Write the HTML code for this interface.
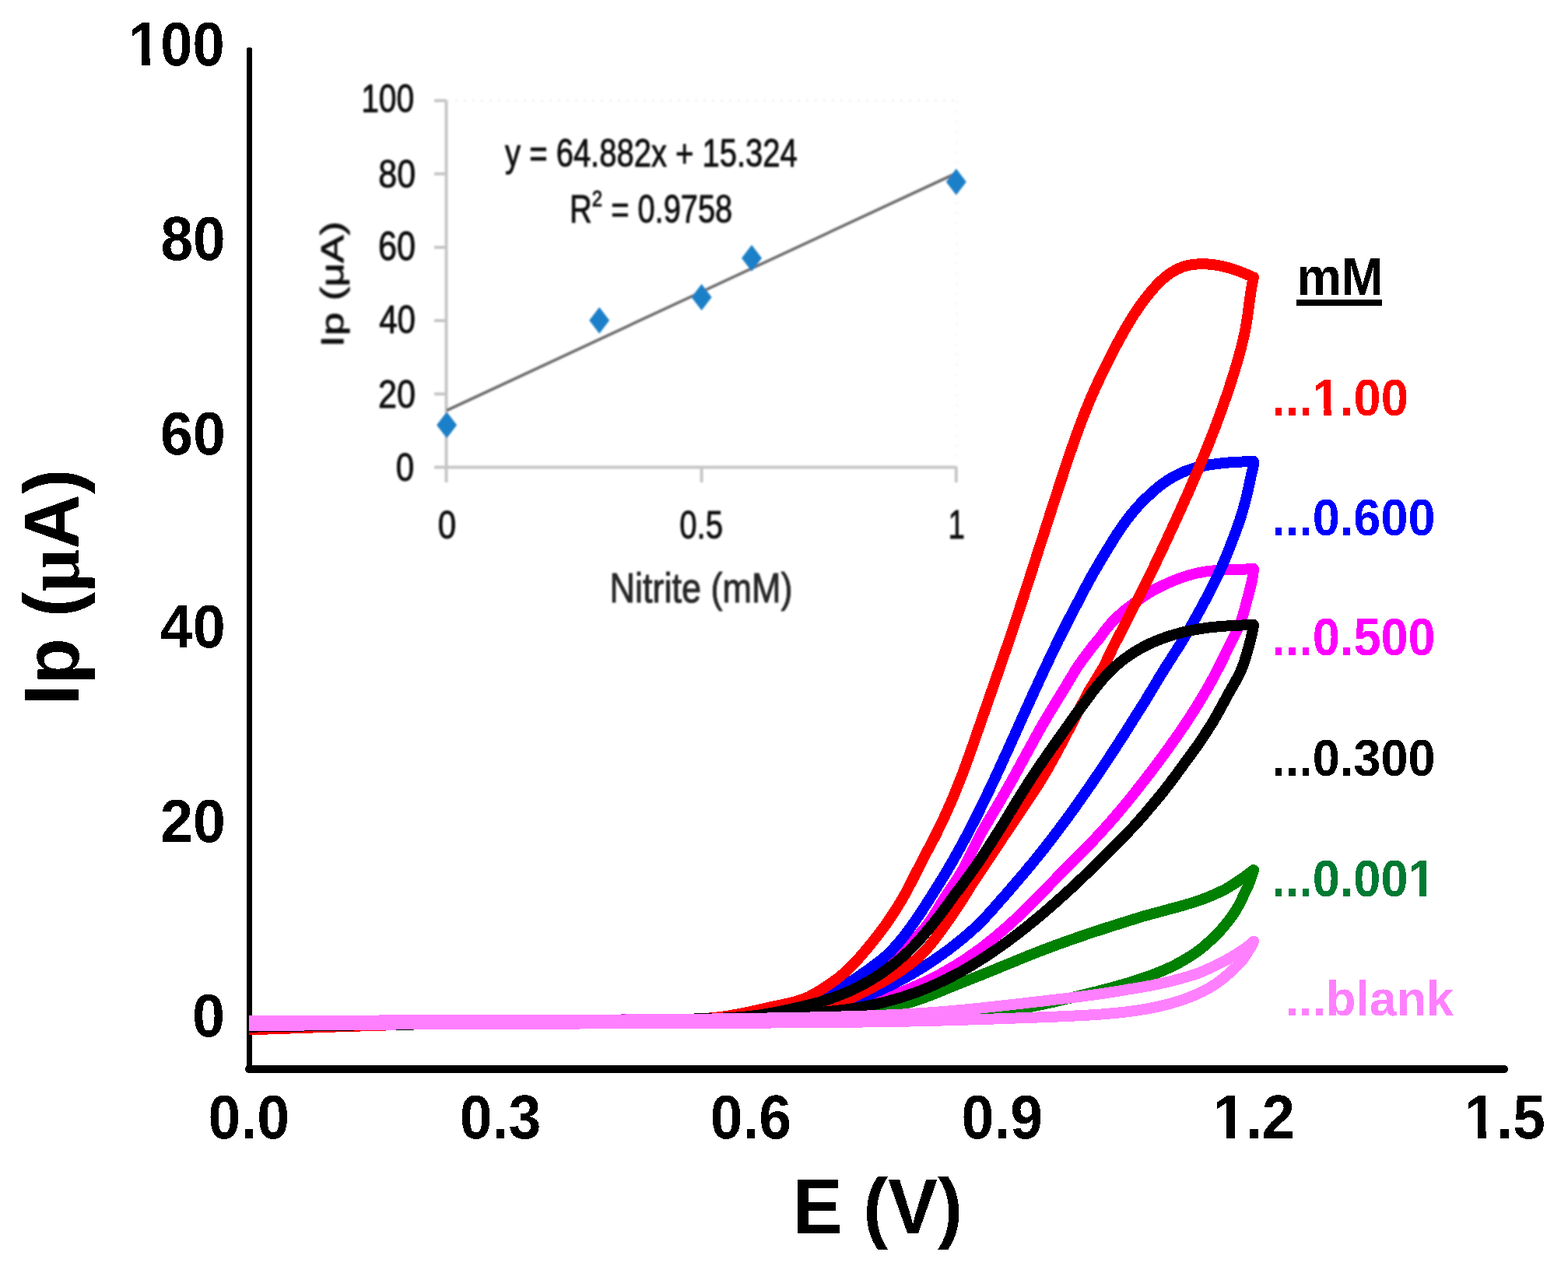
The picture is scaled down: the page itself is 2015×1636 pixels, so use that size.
<!DOCTYPE html>
<html lang="en">
<head>
<meta charset="utf-8">
<title>Cyclic voltammograms of nitrite</title>
<style>
html,body{margin:0;padding:0;background:#fff;}
body{width:2015px;height:1636px;overflow:hidden;}
svg{display:block;}
text{font-family:"Liberation Sans",Arial,Helvetica,sans-serif;}
.b{font-weight:bold;}
</style>
</head>
<body>
<svg xmlns="http://www.w3.org/2000/svg" width="2015" height="1636" viewBox="0 0 2015 1636">
<rect width="2015" height="1636" fill="#ffffff"/>
<defs><filter id="bl" x="-5%" y="-20%" width="110%" height="140%"><feGaussianBlur stdDeviation="0.9"/></filter></defs>
<g id="inset" filter="url(#bl)">
<g stroke="#c6c6c6" stroke-width="4" fill="none">
<line x1="573.5" y1="129" x2="573.5" y2="620"/>
<line x1="558" y1="600.6" x2="1230" y2="600.6"/>
<line x1="558" y1="129.3" x2="574" y2="129.3"/>
<line x1="558" y1="223.4" x2="574" y2="223.4"/>
<line x1="558" y1="317.9" x2="574" y2="317.9"/>
<line x1="558" y1="412" x2="574" y2="412"/>
<line x1="558" y1="506.3" x2="574" y2="506.3"/>
<line x1="901.6" y1="600" x2="901.6" y2="620"/>
<line x1="1228.8" y1="600" x2="1228.8" y2="620"/>
</g>
<line x1="574" y1="129.3" x2="1230" y2="129.3" stroke="#ececec" stroke-width="2" stroke-dasharray="3 8"/>
<line x1="1229.5" y1="129.3" x2="1229.5" y2="600" stroke="#f2f2f2" stroke-width="2" stroke-dasharray="3 10"/>
<line x1="574" y1="527.5" x2="1229" y2="222.5" stroke="#6e6e6e" stroke-width="3.6"/>
<path d="M574.1 529.3 L587.1 546.3 L574.1 563.3 L561.1 546.3 Z" fill="#1f80c8"/>
<path d="M770.2 394.7 L783.2 411.7 L770.2 428.7 L757.2 411.7 Z" fill="#1f80c8"/>
<path d="M901.6 364.9 L914.6 381.9 L901.6 398.9 L888.6 381.9 Z" fill="#1f80c8"/>
<path d="M966 314.7 L979 331.7 L966 348.7 L953 331.7 Z" fill="#1f80c8"/>
<path d="M1228.8 216.8 L1241.8 233.8 L1228.8 250.8 L1215.8 233.8 Z" fill="#1f80c8"/>
<text transform="matrix(0.4084 0 0 0.4958 464.14 143.50)" font-size="100" font-weight="normal" fill="#111" stroke="#111" stroke-width="2" stroke-linejoin="round">100</text>
<text transform="matrix(0.4301 0 0 0.5028 486.26 240.70)" font-size="100" font-weight="normal" fill="#111" stroke="#111" stroke-width="2" stroke-linejoin="round">80</text>
<text transform="matrix(0.4322 0 0 0.5113 486.04 334.49)" font-size="100" font-weight="normal" fill="#111" stroke="#111" stroke-width="2" stroke-linejoin="round">60</text>
<text transform="matrix(0.4219 0 0 0.5000 487.15 427.50)" font-size="100" font-weight="normal" fill="#111" stroke="#111" stroke-width="2" stroke-linejoin="round">40</text>
<text transform="matrix(0.4322 0 0 0.4958 486.04 523.80)" font-size="100" font-weight="normal" fill="#111" stroke="#111" stroke-width="2" stroke-linejoin="round">20</text>
<text transform="matrix(0.4211 0 0 0.5028 508.82 617.70)" font-size="100" font-weight="normal" fill="#111" stroke="#111" stroke-width="2" stroke-linejoin="round">0</text>
<text transform="matrix(0.4211 0 0 0.5042 562.82 691.80)" font-size="100" font-weight="normal" fill="#111" stroke="#111" stroke-width="2" stroke-linejoin="round">0</text>
<text transform="matrix(0.4015 0 0 0.5042 873.29 691.80)" font-size="100" font-weight="normal" fill="#111" stroke="#111" stroke-width="2" stroke-linejoin="round">0.5</text>
<text transform="matrix(0.3860 0 0 0.5188 1218.50 692.30)" font-size="100" font-weight="normal" fill="#111" stroke="#111" stroke-width="2" stroke-linejoin="round">1</text>
<text transform="matrix(0.4498 0 0 0.5337 783.60 774.29)" font-size="100" font-weight="normal" fill="#262626" stroke="#262626" stroke-width="2" stroke-linejoin="round">Nitrite (mM)</text>
<text transform="matrix(0.3999 0 0 0.5066 649.10 214.36)" font-size="100" font-weight="normal" fill="#111" stroke="#111" stroke-width="2" stroke-linejoin="round">y = 64.882x + 15.324</text>
<text transform="matrix(0.3982 0 0 0.4924 732.01 285.61)" font-size="100" font-weight="normal" fill="#111" stroke="#111" stroke-width="2" stroke-linejoin="round">R<tspan font-size="60" dy="-42">2</tspan><tspan dy="42"> = 0.9758</tspan></text>
<text transform="matrix(0 -0.5359 0.4043 0 440.81 446.12)" font-size="100" font-weight="normal" fill="#111" stroke="#111" stroke-width="2" stroke-linejoin="round">Ip (μA)</text>
</g>
<g stroke="#000" fill="none" stroke-linecap="round" shape-rendering="crispEdges">
<line x1="320.5" y1="64" x2="320.5" y2="1374" stroke-width="7"/>
<line x1="320" y1="1374" x2="1933" y2="1374" stroke-width="10"/>
</g>
<g fill="none" stroke-width="14" stroke-linejoin="round" stroke-linecap="butt" shape-rendering="crispEdges">
<path d="M320.0 1312.0 L325.1 1312.0 L330.2 1312.0 L335.3 1312.0 L340.5 1312.0 L345.6 1311.9 L350.7 1311.9 L355.8 1311.9 L360.9 1311.9 L366.1 1311.9 L371.2 1311.9 L376.3 1311.8 L381.4 1311.8 L386.5 1311.8 L391.6 1311.8 L396.8 1311.8 L401.9 1311.8 L407.0 1311.8 L412.1 1311.8 L417.2 1311.7 L422.3 1311.7 L427.5 1311.7 L432.6 1311.7 L437.7 1311.7 L442.8 1311.7 L447.9 1311.7 L453.0 1311.7 L458.2 1311.7 L463.3 1311.7 L468.4 1311.7 L473.5 1311.6 L478.6 1311.6 L483.7 1311.6 L488.9 1311.6 L494.0 1311.6 L499.1 1311.6 L504.2 1311.6 L509.3 1311.6 L514.4 1311.6 L519.6 1311.6 L524.7 1311.6 L529.8 1311.6 L534.9 1311.6 L540.0 1311.6 L545.1 1311.5 L550.3 1311.5 L555.4 1311.5 L560.5 1311.5 L565.6 1311.5 L570.7 1311.5 L575.8 1311.5 L581.0 1311.5 L586.1 1311.5 L591.2 1311.5 L596.3 1311.5 L601.4 1311.4 L606.5 1311.4 L611.7 1311.4 L616.8 1311.4 L621.9 1311.4 L627.0 1311.4 L632.1 1311.4 L637.2 1311.4 L642.4 1311.4 L647.5 1311.3 L652.6 1311.3 L657.7 1311.3 L662.8 1311.3 L667.9 1311.3 L673.1 1311.3 L678.2 1311.2 L683.3 1311.2 L688.4 1311.2 L693.5 1311.2 L698.6 1311.2 L703.8 1311.1 L708.9 1311.1 L714.0 1311.1 L719.1 1311.1 L724.2 1311.0 L729.3 1311.0 L734.5 1311.0 L739.6 1311.0 L744.7 1310.9 L749.8 1310.9 L754.9 1310.9 L760.0 1310.8 L765.2 1310.8 L770.3 1310.8 L775.4 1310.7 L780.5 1310.7 L785.6 1310.6 L790.7 1310.6 L795.9 1310.6 L801.0 1310.5 L806.1 1310.5 L811.2 1310.4 L816.3 1310.4 L821.4 1310.3 L826.6 1310.3 L831.7 1310.2 L836.8 1310.2 L841.9 1310.1 L847.0 1310.1 L852.1 1310.0 L857.3 1310.0 L862.4 1309.9 L867.5 1309.9 L872.6 1309.8 L877.7 1309.7 L882.8 1309.7 L888.0 1309.6 L893.1 1309.5 L898.2 1309.5 L903.3 1309.4 L908.4 1309.3 L913.5 1309.2 L918.7 1309.2 L923.8 1309.1 L928.9 1309.0 L934.0 1308.9 L939.1 1308.8 L944.2 1308.8 L949.4 1308.7 L954.5 1308.6 L959.6 1308.5 L964.7 1308.4 L969.8 1308.3 L975.0 1308.2 L980.1 1308.1 L985.2 1308.0 L990.3 1307.9 L995.4 1307.8 L1000.5 1307.7 L1005.7 1307.6 L1010.8 1307.5 L1015.9 1307.4 L1021.0 1307.2 L1026.1 1307.1 L1031.2 1306.9 L1036.4 1306.8 L1041.5 1306.6 L1046.6 1306.4 L1051.7 1306.1 L1056.8 1305.9 L1061.9 1305.6 L1067.0 1305.3 L1072.1 1304.9 L1077.2 1304.5 L1082.3 1304.1 L1087.4 1303.6 L1092.4 1303.1 L1097.5 1302.6 L1102.6 1301.9 L1107.7 1301.3 L1112.7 1300.6 L1117.8 1299.8 L1122.8 1299.0 L1127.9 1298.1 L1132.9 1297.1 L1137.9 1296.1 L1142.9 1295.0 L1147.9 1293.9 L1152.9 1292.7 L1157.9 1291.4 L1162.8 1290.1 L1167.7 1288.7 L1172.6 1287.2 L1177.5 1285.6 L1182.3 1284.0 L1187.2 1282.3 L1192.0 1280.5 L1196.7 1278.7 L1201.5 1276.8 L1206.3 1274.9 L1211.0 1273.0 L1215.7 1271.0 L1220.5 1269.1 L1225.2 1267.2 L1230.0 1265.2 L1234.7 1263.4 L1239.5 1261.5 L1244.2 1259.6 L1249.0 1257.7 L1253.7 1255.8 L1258.5 1254.0 L1263.2 1252.1 L1268.0 1250.1 L1272.7 1248.2 L1277.5 1246.3 L1282.2 1244.3 L1286.9 1242.4 L1291.7 1240.5 L1296.4 1238.5 L1301.2 1236.6 L1305.9 1234.6 L1310.6 1232.7 L1315.4 1230.8 L1320.1 1228.8 L1324.9 1226.9 L1329.6 1225.1 L1334.4 1223.2 L1339.2 1221.3 L1344.0 1219.5 L1348.7 1217.7 L1353.5 1215.9 L1358.3 1214.2 L1363.1 1212.4 L1368.0 1210.7 L1372.8 1209.0 L1377.6 1207.3 L1382.4 1205.6 L1387.3 1203.9 L1392.1 1202.3 L1397.0 1200.6 L1401.8 1199.0 L1406.7 1197.4 L1411.5 1195.8 L1416.4 1194.2 L1421.2 1192.6 L1426.1 1191.1 L1431.0 1189.5 L1435.9 1188.0 L1440.7 1186.4 L1445.6 1184.9 L1450.5 1183.4 L1455.4 1181.9 L1460.3 1180.3 L1465.2 1178.8 L1470.1 1177.3 L1475.0 1176.0 L1479.8 1174.7 L1484.7 1173.3 L1489.6 1172.0 L1494.5 1170.7 L1499.4 1169.3 L1504.3 1168.0 L1509.2 1166.7 L1514.0 1165.4 L1518.9 1164.0 L1523.7 1162.6 L1528.6 1161.2 L1533.4 1159.7 L1538.1 1158.1 L1542.9 1156.5 L1547.6 1154.8 L1552.3 1153.0 L1557.0 1151.0 L1561.7 1149.0 L1566.3 1146.9 L1570.8 1144.7 L1575.4 1142.4 L1579.9 1139.7 L1584.4 1136.9 L1588.9 1134.0 L1593.3 1131.0 L1597.8 1127.8 L1602.2 1124.6 L1606.6 1121.3 L1611.0 1118.0 L1609.5 1123.2 L1607.8 1128.5 L1605.8 1133.7 L1603.7 1138.8 L1601.5 1143.8 L1599.0 1148.7 L1596.8 1153.6 L1594.6 1158.4 L1592.2 1163.0 L1589.5 1167.6 L1586.8 1172.1 L1583.9 1176.5 L1580.8 1180.7 L1577.6 1184.9 L1574.2 1189.0 L1570.9 1192.9 L1567.5 1196.8 L1564.0 1200.5 L1560.4 1204.1 L1556.6 1207.7 L1552.8 1211.1 L1549.1 1214.4 L1545.4 1217.6 L1541.5 1220.7 L1537.5 1223.6 L1533.4 1226.5 L1529.1 1229.3 L1524.8 1231.9 L1520.4 1234.5 L1516.0 1237.0 L1511.4 1239.4 L1506.9 1241.7 L1502.3 1243.9 L1497.6 1246.0 L1492.7 1248.1 L1487.8 1250.1 L1482.9 1252.0 L1478.0 1253.8 L1473.0 1255.6 L1468.0 1257.3 L1463.0 1259.0 L1458.0 1260.6 L1453.0 1262.2 L1447.9 1263.7 L1442.9 1265.2 L1437.8 1266.7 L1432.7 1268.1 L1427.7 1269.5 L1422.6 1270.8 L1417.5 1272.1 L1412.4 1273.5 L1407.3 1274.8 L1402.2 1276.0 L1397.0 1277.3 L1391.9 1278.6 L1386.8 1279.8 L1381.7 1281.1 L1376.6 1282.3 L1371.5 1283.5 L1366.3 1284.8 L1361.2 1286.0 L1356.1 1287.2 L1350.9 1288.4 L1345.8 1289.5 L1340.7 1290.6 L1335.5 1291.7 L1330.3 1292.8 L1325.2 1293.8 L1320.0 1294.8 L1314.8 1295.8 L1309.7 1296.7 L1304.5 1297.5 L1299.3 1298.3 L1294.1 1299.1 L1288.8 1299.8 L1283.6 1300.5 L1278.4 1301.1 L1273.2 1301.7 L1267.9 1302.3 L1262.7 1302.8 L1257.5 1303.3 L1252.2 1303.8 L1247.0 1304.3 L1241.7 1304.7 L1236.5 1305.2 L1231.2 1305.6 L1225.9 1306.0 L1220.7 1306.3 L1215.4 1306.6 L1210.2 1307.0 L1204.9 1307.2 L1199.6 1307.5 L1194.4 1307.7 L1189.1 1308.0 L1183.9 1308.2 L1178.6 1308.3 L1173.3 1308.5 L1168.1 1308.6 L1162.8 1308.8 L1157.5 1308.9 L1152.3 1309.0 L1147.0 1309.1 L1141.7 1309.2 L1136.5 1309.3 L1131.2 1309.4 L1125.9 1309.4 L1120.7 1309.5 L1115.4 1309.6 L1110.1 1309.7 L1104.9 1309.8 L1099.6 1309.9 L1094.3 1310.0 L1089.1 1310.1 L1083.8 1310.2 L1078.5 1310.3 L1073.3 1310.4 L1068.0 1310.5 L1062.7 1310.6 L1057.5 1310.7 L1052.2 1310.8 L1046.9 1310.9 L1041.7 1311.0 L1036.4 1311.0 L1031.1 1311.1 L1025.9 1311.2 L1020.6 1311.3 L1015.3 1311.4 L1010.1 1311.5 L1004.8 1311.6 L999.5 1311.7 L994.3 1311.7 L989.0 1311.8 L983.7 1311.9 L978.5 1312.0 L973.2 1312.0 L967.9 1312.1 L962.7 1312.2 L957.4 1312.3 L952.1 1312.3 L946.9 1312.4 L941.6 1312.5 L936.3 1312.5 L931.1 1312.6 L925.8 1312.7 L920.5 1312.7 L915.3 1312.8 L910.0 1312.9 L904.7 1312.9 L899.5 1313.0 L894.2 1313.0 L888.9 1313.1 L883.6 1313.1 L878.4 1313.2 L873.1 1313.3 L867.8 1313.3 L862.6 1313.4 L857.3 1313.4 L852.0 1313.5 L846.8 1313.5 L841.5 1313.6 L836.2 1313.6 L831.0 1313.7 L825.7 1313.7 L820.4 1313.8 L815.2 1313.8 L809.9 1313.8 L804.6 1313.9 L799.4 1313.9 L794.1 1314.0 L788.8 1314.0 L783.6 1314.1 L778.3 1314.1 L773.0 1314.1 L767.8 1314.2 L762.5 1314.2 L757.2 1314.3 L752.0 1314.3 L746.7 1314.3 L741.4 1314.4 L736.2 1314.4 L730.9 1314.5 L725.6 1314.5 L720.4 1314.5 L715.1 1314.6 L709.8 1314.6 L704.5 1314.6 L699.3 1314.7 L694.0 1314.7 L688.7 1314.7 L683.5 1314.8 L678.2 1314.8 L672.9 1314.8 L667.7 1314.9 L662.4 1314.9 L657.1 1314.9 L651.9 1315.0 L646.6 1315.0 L641.3 1315.0 L636.1 1315.1 L630.8 1315.1 L625.5 1315.1 L620.3 1315.2 L615.0 1315.2 L609.7 1315.2 L604.5 1315.3 L599.2 1315.3 L593.9 1315.3 L588.7 1315.4 L583.4 1315.4 L578.1 1315.4 L572.9 1315.5 L567.6 1315.5 L562.3 1315.5 L557.0 1315.6 L551.8 1315.6 L546.5 1315.6 L541.2 1315.7 L536.0 1315.7 L530.7 1315.7 L525.4 1315.8 L520.2 1315.8 L514.9 1315.9 L509.6 1315.9 L504.4 1315.9 L499.1 1316.0 L493.8 1316.0 L488.6 1316.0 L483.3 1316.1 L478.0 1316.1 L472.8 1316.2 L467.5 1316.2 L462.2 1316.2 L457.0 1316.3 L451.7 1316.3 L446.4 1316.4 L441.2 1316.4 L435.9 1316.5 L430.6 1316.5 L425.4 1316.6 L420.1 1316.6 L414.8 1316.7 L409.6 1316.7 L404.3 1316.8 L399.0 1316.8 L393.7 1316.9 L388.5 1316.9 L383.2 1317.0 L377.9 1317.0 L372.7 1317.1 L367.4 1317.1 L362.1 1317.2 L356.9 1317.2 L351.6 1317.3 L346.3 1317.3 L341.1 1317.4 L335.8 1317.5 L330.5 1317.5 L325.3 1317.6 L320.0 1317.5" stroke="#008000"/>
<path d="M320.0 1312.3 L326.0 1312.3 L332.1 1312.3 L338.1 1312.3 L344.2 1312.2 L350.2 1312.2 L356.3 1312.2 L362.3 1312.2 L368.4 1312.1 L374.4 1312.1 L380.5 1312.1 L386.5 1312.1 L392.5 1312.1 L398.6 1312.0 L404.6 1312.0 L410.7 1312.0 L416.7 1312.0 L422.8 1312.0 L428.8 1312.0 L434.9 1311.9 L440.9 1311.9 L447.0 1311.9 L453.0 1311.9 L459.0 1311.9 L465.1 1311.9 L471.1 1311.9 L477.2 1311.9 L483.2 1311.9 L489.3 1311.8 L495.3 1311.8 L501.4 1311.8 L507.4 1311.8 L513.5 1311.8 L519.5 1311.8 L525.6 1311.8 L531.6 1311.8 L537.6 1311.8 L543.7 1311.8 L549.7 1311.7 L555.8 1311.7 L561.8 1311.7 L567.9 1311.7 L573.9 1311.7 L580.0 1311.7 L586.0 1311.7 L592.1 1311.7 L598.1 1311.6 L604.1 1311.6 L610.2 1311.6 L616.2 1311.6 L622.3 1311.6 L628.3 1311.6 L634.4 1311.5 L640.4 1311.5 L646.5 1311.5 L652.5 1311.5 L658.6 1311.4 L664.6 1311.4 L670.6 1311.4 L676.7 1311.4 L682.7 1311.3 L688.8 1311.3 L694.8 1311.3 L700.9 1311.2 L706.9 1311.2 L713.0 1311.2 L719.0 1311.1 L725.1 1311.1 L731.1 1311.0 L737.1 1311.0 L743.2 1311.0 L749.2 1310.9 L755.3 1310.9 L761.3 1310.8 L767.4 1310.8 L773.4 1310.7 L779.5 1310.6 L785.5 1310.6 L791.5 1310.5 L797.6 1310.5 L803.6 1310.4 L809.7 1310.4 L815.7 1310.3 L821.8 1310.3 L827.8 1310.3 L833.9 1310.2 L839.9 1310.2 L846.0 1310.2 L852.0 1310.2 L858.1 1310.3 L864.1 1310.3 L870.2 1310.3 L876.2 1310.3 L882.3 1310.3 L888.3 1310.3 L894.4 1310.2 L900.4 1310.0 L906.4 1309.9 L912.5 1309.6 L918.5 1309.3 L924.5 1309.0 L930.5 1308.6 L936.6 1308.2 L942.6 1307.7 L948.6 1307.1 L954.6 1306.5 L960.6 1305.8 L966.6 1305.0 L972.6 1304.2 L978.6 1303.4 L984.6 1302.6 L990.6 1301.8 L996.6 1301.1 L1002.7 1300.5 L1008.7 1300.0 L1014.8 1299.5 L1020.8 1299.0 L1026.8 1298.3 L1032.7 1297.3 L1038.6 1296.0 L1044.3 1294.2 L1049.8 1292.1 L1055.4 1289.6 L1060.8 1287.0 L1066.3 1284.3 L1071.8 1281.7 L1077.3 1279.1 L1082.9 1276.5 L1088.3 1273.9 L1093.7 1271.2 L1098.9 1268.2 L1104.0 1265.0 L1108.9 1261.5 L1113.6 1257.9 L1118.3 1254.1 L1123.0 1250.2 L1127.6 1246.3 L1132.2 1242.4 L1136.9 1238.5 L1141.7 1234.7 L1146.4 1231.0 L1151.1 1227.2 L1155.8 1223.4 L1160.5 1219.5 L1165.2 1215.6 L1169.8 1211.6 L1174.2 1207.6 L1178.6 1203.4 L1182.8 1199.1 L1186.8 1194.6 L1190.6 1189.9 L1194.2 1185.1 L1197.6 1180.1 L1200.9 1175.0 L1204.1 1169.9 L1207.3 1164.7 L1210.4 1159.5 L1213.7 1154.4 L1216.9 1149.3 L1220.3 1144.2 L1223.7 1139.2 L1227.0 1134.2 L1230.3 1129.1 L1233.5 1124.0 L1236.6 1118.8 L1239.6 1113.6 L1242.4 1108.2 L1245.0 1102.8 L1247.7 1097.4 L1250.3 1091.9 L1252.9 1086.4 L1255.6 1081.0 L1258.4 1075.6 L1261.2 1070.3 L1264.2 1065.0 L1267.2 1059.8 L1270.3 1054.6 L1273.4 1049.4 L1276.5 1044.2 L1279.6 1039.0 L1282.6 1033.8 L1285.7 1028.6 L1288.7 1023.4 L1291.7 1018.1 L1294.7 1012.9 L1297.7 1007.7 L1300.7 1002.4 L1303.6 997.1 L1306.5 991.8 L1309.4 986.5 L1312.3 981.2 L1315.2 975.8 L1318.1 970.5 L1321.0 965.2 L1323.9 959.9 L1326.8 954.6 L1329.7 949.3 L1332.6 944.0 L1335.6 938.7 L1338.6 933.4 L1341.6 928.2 L1344.7 923.0 L1347.7 917.8 L1350.8 912.7 L1354.0 907.5 L1357.1 902.4 L1360.2 897.3 L1363.4 892.1 L1366.5 887.0 L1369.7 881.8 L1372.8 876.6 L1375.9 871.4 L1379.1 866.2 L1382.2 860.9 L1385.6 855.7 L1389.3 850.5 L1393.0 845.4 L1396.8 840.2 L1400.6 835.2 L1404.5 830.2 L1408.5 825.3 L1412.6 820.5 L1416.1 815.8 L1419.4 811.2 L1422.9 806.8 L1426.5 802.5 L1430.3 798.4 L1434.3 794.4 L1438.4 790.5 L1442.7 786.7 L1447.0 783.0 L1451.5 779.5 L1456.2 776.0 L1460.9 772.6 L1465.7 769.2 L1470.5 766.0 L1475.4 762.8 L1480.4 759.6 L1485.7 756.6 L1491.5 753.7 L1497.3 751.0 L1503.2 748.3 L1509.1 745.9 L1515.0 743.6 L1521.0 741.5 L1527.0 739.6 L1532.7 738.0 L1538.5 736.5 L1544.5 735.4 L1550.4 734.4 L1556.5 733.7 L1562.5 733.1 L1568.7 732.7 L1574.8 732.4 L1580.9 732.2 L1587.0 732.0 L1593.1 731.8 L1599.1 731.6 L1605.1 731.3 L1611.0 731.0 L1610.4 737.0 L1609.5 743.0 L1608.3 748.9 L1606.9 754.8 L1605.3 760.7 L1603.8 766.6 L1602.2 772.5 L1600.7 778.4 L1599.1 784.2 L1597.5 790.1 L1595.8 795.9 L1593.7 801.5 L1591.2 807.0 L1588.5 812.4 L1585.7 817.8 L1583.0 823.2 L1580.3 828.6 L1577.7 834.1 L1575.1 839.6 L1572.5 845.0 L1569.8 850.5 L1567.1 855.9 L1564.3 861.3 L1561.5 866.7 L1558.6 872.0 L1555.7 877.4 L1552.7 882.6 L1549.7 887.9 L1546.6 893.1 L1543.5 898.3 L1540.4 903.5 L1537.2 908.7 L1534.0 913.8 L1530.7 918.9 L1527.4 924.0 L1524.1 929.1 L1520.7 934.1 L1517.3 939.1 L1513.9 944.1 L1510.4 949.1 L1506.9 954.0 L1503.4 959.0 L1499.9 963.9 L1496.3 968.8 L1492.7 973.7 L1489.1 978.6 L1485.5 983.4 L1481.8 988.3 L1478.1 993.1 L1474.4 997.9 L1470.7 1002.7 L1467.0 1007.5 L1463.2 1012.3 L1459.5 1017.0 L1455.7 1021.8 L1451.9 1026.5 L1448.1 1031.2 L1444.2 1035.9 L1440.3 1040.5 L1436.4 1045.2 L1432.5 1049.8 L1428.5 1054.4 L1424.5 1058.9 L1420.5 1063.4 L1416.4 1067.9 L1412.3 1072.4 L1408.2 1076.8 L1404.0 1081.2 L1399.8 1085.5 L1395.6 1089.9 L1391.4 1094.2 L1387.1 1098.6 L1382.9 1102.9 L1378.6 1107.2 L1374.3 1111.5 L1370.0 1115.8 L1365.8 1120.1 L1361.5 1124.4 L1357.2 1128.7 L1353.0 1133.1 L1348.7 1137.4 L1344.5 1141.7 L1340.2 1146.1 L1336.0 1150.4 L1331.7 1154.8 L1327.5 1159.1 L1323.2 1163.4 L1318.9 1167.6 L1314.5 1171.9 L1310.2 1176.1 L1305.8 1180.3 L1301.4 1184.4 L1296.9 1188.5 L1292.4 1192.5 L1287.8 1196.5 L1283.2 1200.4 L1278.6 1204.3 L1273.9 1208.1 L1269.1 1211.9 L1264.4 1215.6 L1259.5 1219.3 L1254.6 1222.8 L1249.7 1226.3 L1244.7 1229.8 L1239.7 1233.2 L1234.6 1236.5 L1229.5 1239.7 L1224.3 1242.8 L1219.1 1245.9 L1213.8 1248.9 L1208.5 1251.9 L1203.1 1254.7 L1197.7 1257.5 L1192.2 1260.2 L1186.7 1262.8 L1181.2 1265.3 L1175.6 1267.7 L1170.0 1270.1 L1164.4 1272.4 L1158.7 1274.6 L1153.0 1276.7 L1147.3 1278.8 L1141.6 1280.7 L1135.9 1282.6 L1130.1 1284.4 L1124.4 1286.1 L1118.6 1287.8 L1112.7 1289.3 L1106.9 1290.9 L1101.0 1292.3 L1095.0 1293.7 L1089.1 1295.0 L1083.2 1296.2 L1077.2 1297.4 L1071.2 1298.4 L1065.2 1299.4 L1059.2 1300.3 L1053.2 1301.2 L1047.1 1301.9 L1041.1 1302.5 L1035.1 1303.1 L1029.1 1303.6 L1023.0 1304.1 L1017.0 1304.6 L1011.0 1305.1 L1004.9 1305.5 L998.9 1306.1 L992.9 1306.6 L986.8 1307.1 L980.8 1307.7 L974.7 1308.2 L968.7 1308.8 L962.6 1309.3 L956.6 1309.8 L950.5 1310.3 L944.5 1310.7 L938.4 1311.1 L932.4 1311.4 L926.3 1311.7 L920.3 1311.9 L914.2 1312.1 L908.2 1312.2 L902.1 1312.3 L896.0 1312.4 L890.0 1312.5 L883.9 1312.5 L877.8 1312.6 L871.8 1312.6 L865.7 1312.7 L859.7 1312.7 L853.6 1312.8 L847.5 1312.9 L841.5 1312.9 L835.4 1313.0 L829.3 1313.1 L823.3 1313.1 L817.2 1313.2 L811.2 1313.3 L805.1 1313.3 L799.0 1313.4 L793.0 1313.5 L786.9 1313.6 L780.8 1313.6 L774.8 1313.7 L768.7 1313.8 L762.6 1313.8 L756.6 1313.9 L750.5 1313.9 L744.5 1314.0 L738.4 1314.1 L732.3 1314.1 L726.3 1314.2 L720.2 1314.3 L714.1 1314.3 L708.1 1314.4 L702.0 1314.4 L695.9 1314.5 L689.9 1314.5 L683.8 1314.6 L677.8 1314.7 L671.7 1314.7 L665.6 1314.8 L659.6 1314.8 L653.5 1314.9 L647.4 1314.9 L641.4 1315.0 L635.3 1315.0 L629.2 1315.1 L623.2 1315.1 L617.1 1315.2 L611.1 1315.2 L605.0 1315.3 L598.9 1315.3 L592.9 1315.4 L586.8 1315.4 L580.7 1315.5 L574.7 1315.5 L568.6 1315.6 L562.5 1315.6 L556.5 1315.7 L550.4 1315.7 L544.4 1315.7 L538.3 1315.8 L532.2 1315.8 L526.2 1315.9 L520.1 1315.9 L514.0 1316.0 L508.0 1316.0 L501.9 1316.1 L495.8 1316.1 L489.8 1316.2 L483.7 1316.2 L477.7 1316.3 L471.6 1316.3 L465.5 1316.3 L459.5 1316.4 L453.4 1316.4 L447.3 1316.5 L441.3 1316.5 L435.2 1316.6 L429.1 1316.6 L423.1 1316.7 L417.0 1316.7 L411.0 1316.8 L404.9 1316.8 L398.8 1316.9 L392.8 1316.9 L386.7 1317.0 L380.6 1317.0 L374.6 1317.1 L368.5 1317.1 L362.4 1317.2 L356.4 1317.2 L350.3 1317.3 L344.3 1317.3 L338.2 1317.4 L332.1 1317.4 L326.1 1317.5 L320.0 1317.5" stroke="#ff00ff"/>
<path d="M320.0 1312.3 L326.5 1312.3 L332.9 1312.3 L339.3 1312.2 L345.8 1312.2 L352.2 1312.2 L358.7 1312.2 L365.1 1312.2 L371.6 1312.1 L378.0 1312.1 L384.5 1312.1 L390.9 1312.1 L397.4 1312.1 L403.8 1312.1 L410.3 1312.0 L416.7 1312.0 L423.2 1312.0 L429.6 1312.0 L436.1 1312.0 L442.5 1312.0 L449.0 1311.9 L455.4 1311.9 L461.9 1311.9 L468.3 1311.9 L474.8 1311.9 L481.2 1311.9 L487.7 1311.9 L494.1 1311.8 L500.6 1311.8 L507.0 1311.8 L513.5 1311.8 L519.9 1311.8 L526.4 1311.8 L532.8 1311.8 L539.3 1311.7 L545.7 1311.7 L552.2 1311.7 L558.6 1311.7 L565.1 1311.7 L571.5 1311.7 L578.0 1311.7 L584.4 1311.6 L590.9 1311.6 L597.3 1311.6 L603.8 1311.6 L610.2 1311.6 L616.7 1311.5 L623.1 1311.5 L629.6 1311.5 L636.0 1311.5 L642.5 1311.5 L648.9 1311.4 L655.4 1311.4 L661.8 1311.4 L668.3 1311.4 L674.7 1311.3 L681.2 1311.3 L687.6 1311.3 L694.1 1311.2 L700.5 1311.2 L707.0 1311.2 L713.4 1311.1 L719.9 1311.1 L726.3 1311.1 L732.8 1311.0 L739.2 1311.0 L745.7 1311.0 L752.1 1310.9 L758.6 1310.9 L765.0 1310.8 L771.5 1310.8 L777.9 1310.7 L784.4 1310.7 L790.8 1310.7 L797.3 1310.6 L803.7 1310.5 L810.2 1310.5 L816.6 1310.4 L823.0 1310.4 L829.5 1310.3 L835.9 1310.3 L842.4 1310.2 L848.8 1310.2 L855.3 1310.1 L861.7 1310.1 L868.2 1310.1 L874.7 1310.0 L881.1 1310.0 L887.6 1310.0 L894.0 1310.0 L900.5 1310.0 L906.9 1309.9 L913.4 1309.8 L919.8 1309.5 L926.2 1309.1 L932.6 1308.6 L939.0 1308.0 L945.4 1307.2 L951.8 1306.4 L958.2 1305.5 L964.6 1304.5 L970.9 1303.6 L977.3 1302.7 L983.8 1301.7 L990.2 1300.9 L996.6 1300.0 L1003.0 1299.1 L1009.4 1298.1 L1015.7 1297.0 L1022.0 1295.5 L1028.2 1293.9 L1034.3 1291.9 L1040.3 1289.8 L1046.3 1287.4 L1052.2 1284.8 L1058.0 1282.1 L1063.7 1279.2 L1069.4 1276.1 L1075.1 1272.9 L1080.6 1269.6 L1086.2 1266.1 L1091.6 1262.6 L1097.1 1259.0 L1102.5 1255.4 L1107.8 1251.7 L1113.1 1248.0 L1118.3 1244.3 L1123.5 1240.5 L1128.6 1236.7 L1133.6 1232.7 L1138.5 1228.5 L1143.1 1224.1 L1147.6 1219.5 L1152.0 1214.7 L1156.2 1209.8 L1160.3 1204.8 L1164.2 1199.7 L1168.1 1194.6 L1171.9 1189.3 L1175.6 1184.1 L1179.3 1178.7 L1182.9 1173.4 L1186.4 1168.0 L1189.9 1162.6 L1193.4 1157.1 L1196.8 1151.7 L1200.3 1146.2 L1203.7 1140.8 L1207.1 1135.3 L1210.5 1129.8 L1213.9 1124.3 L1217.2 1118.8 L1220.4 1113.2 L1223.7 1107.6 L1226.9 1102.0 L1230.0 1096.4 L1233.1 1090.8 L1236.2 1085.1 L1239.3 1079.4 L1242.3 1073.7 L1245.3 1068.0 L1248.2 1062.3 L1251.2 1056.6 L1254.1 1050.8 L1257.0 1045.0 L1259.8 1039.3 L1262.6 1033.5 L1265.5 1027.7 L1268.3 1021.8 L1271.0 1016.0 L1273.8 1010.2 L1276.5 1004.3 L1279.3 998.5 L1282.0 992.6 L1284.7 986.8 L1287.4 980.9 L1290.0 975.0 L1292.7 969.2 L1295.4 963.3 L1298.0 957.4 L1300.7 951.5 L1303.3 945.7 L1306.0 939.8 L1308.6 933.9 L1311.3 928.0 L1313.9 922.1 L1316.6 916.2 L1319.2 910.4 L1321.9 904.5 L1324.5 898.6 L1327.2 892.7 L1329.9 886.9 L1332.6 881.0 L1335.3 875.2 L1338.0 869.3 L1340.7 863.5 L1343.4 857.6 L1346.2 851.8 L1348.9 846.0 L1351.7 840.1 L1354.5 834.3 L1357.3 828.5 L1360.1 822.7 L1363.0 817.0 L1365.9 811.2 L1368.8 805.4 L1371.7 799.7 L1374.6 793.9 L1377.6 788.2 L1380.6 782.5 L1383.6 776.8 L1386.6 771.1 L1389.5 765.4 L1392.5 759.6 L1395.6 753.9 L1398.7 748.2 L1401.8 742.4 L1405.0 736.6 L1408.4 730.9 L1411.7 725.1 L1415.1 719.3 L1418.5 713.6 L1422.0 707.9 L1425.5 702.2 L1429.0 696.6 L1432.4 691.0 L1435.9 685.5 L1439.6 680.1 L1443.2 674.8 L1447.0 669.5 L1450.9 664.4 L1454.9 659.4 L1459.1 654.4 L1463.3 649.7 L1467.8 645.0 L1472.3 640.5 L1477.1 636.1 L1481.5 631.9 L1486.2 627.9 L1491.0 624.0 L1496.0 620.4 L1501.0 616.9 L1506.3 613.7 L1511.6 610.8 L1517.1 608.1 L1522.8 605.7 L1528.6 603.6 L1534.5 601.7 L1540.5 600.1 L1546.8 598.8 L1553.1 597.6 L1559.5 596.6 L1565.9 595.8 L1572.3 595.1 L1578.8 594.5 L1585.3 594.0 L1591.7 593.7 L1598.2 593.4 L1604.6 593.2 L1611.0 593.0 L1610.6 599.4 L1609.1 605.9 L1607.5 612.4 L1606.1 618.9 L1604.8 625.3 L1603.4 631.6 L1601.9 638.0 L1600.3 644.3 L1598.6 650.6 L1596.9 656.8 L1595.0 663.1 L1593.0 669.2 L1590.9 675.4 L1588.7 681.5 L1586.4 687.6 L1584.0 693.7 L1581.7 699.8 L1579.4 705.8 L1577.0 711.8 L1574.6 717.7 L1572.1 723.7 L1569.4 729.6 L1566.8 735.5 L1564.0 741.3 L1561.2 747.1 L1558.4 752.9 L1555.5 758.7 L1552.5 764.5 L1549.5 770.2 L1546.4 775.9 L1543.4 781.6 L1540.3 787.2 L1537.2 792.8 L1534.1 798.4 L1530.9 804.0 L1527.8 809.6 L1524.5 815.1 L1521.3 820.6 L1518.0 826.0 L1514.6 831.4 L1511.1 836.8 L1507.7 842.1 L1504.4 847.4 L1501.0 852.6 L1497.6 857.9 L1494.4 863.2 L1491.1 868.4 L1487.9 873.8 L1484.8 879.1 L1481.6 884.4 L1478.3 889.8 L1475.1 895.1 L1471.9 900.5 L1468.5 905.9 L1465.1 911.3 L1461.6 916.7 L1458.2 922.1 L1454.8 927.5 L1451.4 933.0 L1448.1 938.4 L1444.6 943.8 L1441.1 949.2 L1437.6 954.6 L1434.1 960.0 L1430.5 965.5 L1427.0 970.9 L1423.5 976.2 L1419.9 981.6 L1416.3 987.0 L1412.7 992.4 L1409.1 997.7 L1405.5 1003.1 L1401.9 1008.4 L1398.2 1013.7 L1394.5 1019.0 L1390.8 1024.3 L1387.1 1029.6 L1383.4 1034.8 L1379.7 1040.1 L1375.9 1045.3 L1372.1 1050.5 L1368.3 1055.7 L1364.4 1060.9 L1360.6 1066.1 L1356.7 1071.2 L1352.8 1076.4 L1348.8 1081.5 L1344.9 1086.6 L1340.9 1091.6 L1336.9 1096.7 L1332.8 1101.7 L1328.8 1106.7 L1324.7 1111.7 L1320.5 1116.6 L1316.4 1121.6 L1312.2 1126.5 L1308.0 1131.4 L1303.9 1136.3 L1299.6 1141.2 L1295.4 1146.1 L1291.2 1151.0 L1286.9 1155.8 L1282.7 1160.7 L1278.4 1165.5 L1274.1 1170.3 L1269.8 1175.1 L1265.4 1179.8 L1260.9 1184.5 L1256.4 1189.0 L1251.7 1193.4 L1246.9 1197.7 L1242.0 1202.0 L1237.1 1206.1 L1232.1 1210.2 L1227.0 1214.2 L1221.9 1218.2 L1216.8 1222.1 L1211.5 1225.9 L1206.3 1229.6 L1201.0 1233.3 L1195.6 1236.9 L1190.2 1240.4 L1184.8 1243.9 L1179.3 1247.2 L1173.7 1250.5 L1168.2 1253.7 L1162.5 1256.9 L1156.9 1259.9 L1151.1 1262.9 L1145.4 1265.8 L1139.6 1268.6 L1133.7 1271.3 L1127.8 1274.0 L1121.9 1276.6 L1115.9 1279.1 L1109.9 1281.5 L1103.9 1283.8 L1097.8 1286.1 L1091.8 1288.3 L1085.7 1290.4 L1079.5 1292.4 L1073.4 1294.3 L1067.2 1296.2 L1061.0 1297.9 L1054.7 1299.6 L1048.5 1301.0 L1042.2 1302.2 L1035.8 1303.3 L1029.4 1304.1 L1023.0 1304.7 L1016.6 1305.2 L1010.1 1305.7 L1003.7 1306.1 L997.2 1306.6 L990.8 1307.1 L984.4 1307.6 L977.9 1308.1 L971.5 1308.6 L965.0 1309.1 L958.6 1309.5 L952.2 1309.9 L945.7 1310.3 L939.3 1310.7 L932.9 1311.0 L926.4 1311.3 L920.0 1311.5 L913.5 1311.8 L907.1 1312.0 L900.7 1312.2 L894.2 1312.4 L887.8 1312.5 L881.3 1312.7 L874.9 1312.8 L868.4 1312.9 L862.0 1313.0 L855.5 1313.1 L849.1 1313.1 L842.6 1313.2 L836.2 1313.3 L829.7 1313.3 L823.2 1313.4 L816.8 1313.4 L810.3 1313.5 L803.9 1313.5 L797.4 1313.5 L791.0 1313.6 L784.5 1313.6 L778.1 1313.7 L771.6 1313.8 L765.2 1313.8 L758.7 1313.9 L752.3 1313.9 L745.8 1314.0 L739.4 1314.0 L732.9 1314.1 L726.5 1314.1 L720.0 1314.2 L713.6 1314.2 L707.1 1314.3 L700.7 1314.3 L694.2 1314.4 L687.7 1314.5 L681.3 1314.5 L674.8 1314.6 L668.4 1314.6 L661.9 1314.7 L655.5 1314.7 L649.0 1314.8 L642.6 1314.9 L636.1 1314.9 L629.7 1315.0 L623.2 1315.0 L616.8 1315.1 L610.3 1315.2 L603.9 1315.2 L597.4 1315.3 L591.0 1315.3 L584.5 1315.4 L578.1 1315.4 L571.6 1315.5 L565.2 1315.6 L558.7 1315.6 L552.3 1315.7 L545.8 1315.7 L539.4 1315.8 L532.9 1315.8 L526.5 1315.9 L520.0 1316.0 L513.6 1316.0 L507.1 1316.1 L500.7 1316.1 L494.2 1316.2 L487.7 1316.2 L481.3 1316.3 L474.8 1316.3 L468.4 1316.4 L461.9 1316.4 L455.5 1316.5 L449.0 1316.5 L442.6 1316.6 L436.1 1316.6 L429.7 1316.7 L423.2 1316.7 L416.8 1316.8 L410.3 1316.8 L403.9 1316.9 L397.4 1316.9 L391.0 1317.0 L384.5 1317.0 L378.1 1317.1 L371.6 1317.1 L365.2 1317.2 L358.7 1317.2 L352.3 1317.2 L345.8 1317.3 L339.4 1317.3 L332.9 1317.4 L326.4 1317.4 L320.0 1317.5" stroke="#0000ff"/>
<path d="M320.0 1312.3 L327.3 1312.3 L334.6 1312.3 L341.9 1312.2 L349.2 1312.2 L356.5 1312.2 L363.8 1312.2 L371.1 1312.2 L378.4 1312.2 L385.7 1312.1 L393.0 1312.1 L400.3 1312.1 L407.6 1312.1 L414.9 1312.1 L422.2 1312.1 L429.5 1312.0 L436.9 1312.0 L444.2 1312.0 L451.5 1312.0 L458.8 1312.0 L466.1 1311.9 L473.4 1311.9 L480.7 1311.9 L488.0 1311.9 L495.3 1311.9 L502.6 1311.8 L509.9 1311.8 L517.2 1311.8 L524.5 1311.8 L531.8 1311.8 L539.1 1311.7 L546.4 1311.7 L553.7 1311.7 L561.0 1311.7 L568.3 1311.7 L575.6 1311.6 L582.9 1311.6 L590.2 1311.6 L597.5 1311.6 L604.8 1311.5 L612.1 1311.5 L619.4 1311.5 L626.8 1311.4 L634.1 1311.4 L641.4 1311.4 L648.7 1311.4 L656.0 1311.3 L663.3 1311.3 L670.6 1311.3 L677.9 1311.2 L685.2 1311.2 L692.5 1311.2 L699.8 1311.1 L707.1 1311.1 L714.4 1311.1 L721.7 1311.0 L729.0 1311.0 L736.3 1311.0 L743.6 1310.9 L750.9 1310.9 L758.2 1310.8 L765.5 1310.8 L772.8 1310.8 L780.1 1310.7 L787.4 1310.7 L794.7 1310.6 L802.0 1310.6 L809.3 1310.5 L816.6 1310.5 L823.9 1310.4 L831.3 1310.4 L838.6 1310.3 L845.9 1310.2 L853.2 1310.2 L860.5 1310.1 L867.8 1310.1 L875.1 1310.0 L882.4 1309.8 L889.7 1309.7 L897.0 1309.4 L904.3 1309.0 L911.5 1308.5 L918.8 1307.8 L926.0 1307.0 L933.2 1306.0 L940.4 1304.8 L947.6 1303.5 L954.8 1302.1 L962.0 1300.6 L969.1 1299.1 L976.3 1297.5 L983.4 1295.9 L990.6 1294.2 L997.8 1292.7 L1004.9 1291.2 L1012.1 1289.6 L1019.2 1287.9 L1026.2 1286.0 L1033.0 1283.6 L1039.7 1280.8 L1046.1 1277.4 L1052.4 1273.7 L1058.6 1269.7 L1064.8 1265.7 L1070.8 1261.5 L1076.7 1257.2 L1082.3 1252.6 L1087.7 1247.7 L1093.0 1242.6 L1098.1 1237.4 L1103.2 1232.0 L1108.1 1226.4 L1112.9 1220.8 L1117.6 1215.1 L1122.3 1209.3 L1126.8 1203.5 L1131.3 1197.7 L1135.7 1191.8 L1140.0 1185.8 L1144.1 1179.7 L1148.2 1173.6 L1152.1 1167.4 L1156.0 1161.1 L1159.8 1154.8 L1163.5 1148.4 L1166.8 1142.1 L1170.1 1135.7 L1173.4 1129.2 L1176.6 1122.8 L1179.9 1116.4 L1183.2 1110.0 L1186.4 1103.6 L1189.7 1097.2 L1193.2 1090.8 L1196.6 1084.4 L1200.0 1077.9 L1203.3 1071.4 L1206.5 1064.8 L1209.7 1058.3 L1212.8 1051.6 L1215.9 1045.0 L1218.8 1038.3 L1221.8 1031.6 L1224.7 1024.9 L1227.5 1018.2 L1230.2 1011.4 L1232.9 1004.6 L1235.6 997.8 L1238.2 991.0 L1240.7 984.1 L1243.2 977.3 L1245.7 970.4 L1248.1 963.5 L1250.6 956.6 L1253.0 949.8 L1255.3 942.9 L1257.7 936.0 L1260.1 929.1 L1262.5 922.2 L1264.9 915.3 L1267.3 908.4 L1269.7 901.5 L1272.1 894.6 L1274.5 887.7 L1276.9 880.8 L1279.3 873.9 L1281.7 867.0 L1284.1 860.1 L1286.5 853.2 L1288.8 846.2 L1291.2 839.3 L1293.6 832.4 L1295.9 825.5 L1298.2 818.6 L1300.6 811.7 L1302.9 804.7 L1305.2 797.8 L1307.5 790.9 L1309.8 783.9 L1312.0 777.0 L1314.3 770.1 L1316.6 763.1 L1318.8 756.2 L1321.1 749.2 L1323.3 742.3 L1325.6 735.3 L1327.8 728.4 L1330.0 721.4 L1332.2 714.5 L1334.5 707.5 L1336.7 700.5 L1338.9 693.6 L1341.2 686.6 L1343.4 679.7 L1345.6 672.7 L1347.8 665.8 L1350.1 658.8 L1352.3 651.9 L1354.6 644.9 L1356.8 638.0 L1359.1 631.0 L1361.3 624.1 L1363.6 617.1 L1365.9 610.2 L1368.2 603.3 L1370.5 596.3 L1372.8 589.4 L1375.1 582.5 L1377.5 575.6 L1379.9 568.7 L1382.3 561.8 L1384.8 554.9 L1387.3 548.1 L1389.9 541.2 L1392.5 534.4 L1395.2 527.6 L1397.9 520.9 L1400.7 514.1 L1403.6 507.4 L1406.6 500.7 L1409.6 494.1 L1412.7 487.5 L1415.8 480.9 L1419.0 474.3 L1422.3 467.7 L1425.5 461.2 L1428.9 454.7 L1432.2 448.2 L1435.6 441.7 L1439.1 435.3 L1442.6 428.9 L1446.2 422.6 L1449.9 416.3 L1453.6 410.1 L1457.5 403.9 L1461.6 397.8 L1465.7 391.8 L1470.1 385.9 L1474.6 380.1 L1479.2 374.4 L1484.1 368.9 L1489.2 363.5 L1494.5 358.5 L1500.1 353.8 L1506.0 349.7 L1512.3 346.2 L1518.8 343.3 L1525.8 341.2 L1533.1 339.9 L1540.6 339.3 L1548.0 339.2 L1555.4 339.7 L1562.7 340.6 L1569.8 341.9 L1576.9 343.7 L1583.9 345.7 L1590.8 348.1 L1597.6 350.7 L1604.3 353.5 L1611.0 356.5 L1609.4 363.5 L1608.1 370.6 L1607.0 377.7 L1606.1 384.8 L1605.1 391.9 L1604.2 399.1 L1603.2 406.2 L1602.1 413.3 L1600.9 420.3 L1599.5 427.4 L1598.0 434.4 L1596.3 441.4 L1594.6 448.4 L1592.7 455.4 L1590.8 462.3 L1588.8 469.2 L1586.7 476.1 L1584.6 483.0 L1582.4 489.9 L1580.2 496.7 L1577.9 503.6 L1575.6 510.4 L1573.2 517.2 L1570.8 523.9 L1568.4 530.7 L1565.9 537.5 L1563.4 544.2 L1560.9 550.9 L1558.3 557.6 L1555.7 564.3 L1553.0 571.0 L1550.3 577.7 L1547.6 584.3 L1544.9 591.0 L1542.1 597.6 L1539.4 604.3 L1536.5 610.9 L1533.7 617.5 L1530.8 624.1 L1528.0 630.7 L1525.1 637.3 L1522.1 643.8 L1519.2 650.4 L1516.2 657.0 L1513.2 663.5 L1510.3 670.1 L1507.2 676.6 L1504.2 683.1 L1501.2 689.7 L1498.1 696.2 L1495.1 702.7 L1492.0 709.2 L1489.0 715.7 L1485.9 722.2 L1482.8 728.7 L1479.7 735.2 L1476.5 741.7 L1473.3 748.1 L1470.1 754.5 L1466.9 761.0 L1463.6 767.3 L1460.2 773.7 L1456.8 780.1 L1453.7 786.4 L1450.5 792.6 L1447.3 798.9 L1444.1 805.2 L1440.9 811.4 L1437.7 817.7 L1434.4 824.0 L1431.2 830.3 L1428.1 836.7 L1425.0 843.0 L1421.9 849.4 L1418.8 855.8 L1415.3 862.2 L1411.3 868.7 L1407.4 875.1 L1403.4 881.5 L1399.5 888.0 L1396.1 894.5 L1392.7 900.9 L1389.3 907.4 L1386.0 913.9 L1382.6 920.3 L1379.3 926.8 L1375.9 933.3 L1372.6 939.7 L1369.2 946.1 L1365.8 952.6 L1362.4 959.0 L1359.0 965.4 L1355.6 971.7 L1352.1 978.0 L1348.6 984.3 L1345.0 990.6 L1341.3 996.8 L1337.6 1003.0 L1333.8 1009.2 L1329.7 1015.3 L1325.7 1021.4 L1321.6 1027.5 L1317.5 1033.6 L1313.4 1039.6 L1309.3 1045.7 L1305.3 1051.8 L1301.2 1057.9 L1297.1 1064.0 L1293.1 1070.0 L1289.0 1076.1 L1285.0 1082.2 L1281.0 1088.3 L1276.9 1094.4 L1272.9 1100.5 L1268.9 1106.6 L1264.9 1112.7 L1260.8 1118.8 L1256.7 1125.0 L1252.5 1131.1 L1248.5 1137.2 L1244.8 1143.3 L1241.0 1149.4 L1237.2 1155.4 L1233.4 1161.4 L1229.5 1167.4 L1225.5 1173.3 L1221.5 1179.2 L1217.4 1185.0 L1213.2 1190.8 L1209.2 1196.5 L1205.0 1202.1 L1200.8 1207.6 L1196.4 1213.1 L1191.9 1218.4 L1187.2 1223.5 L1182.3 1228.4 L1177.1 1233.0 L1171.7 1237.4 L1166.1 1241.6 L1160.4 1245.6 L1154.6 1249.5 L1148.7 1253.2 L1142.7 1256.9 L1136.7 1260.4 L1130.5 1263.9 L1124.4 1267.3 L1118.2 1270.6 L1111.9 1273.9 L1105.6 1277.0 L1099.3 1280.1 L1092.9 1283.0 L1086.4 1285.9 L1079.9 1288.5 L1073.3 1291.0 L1066.6 1293.2 L1059.9 1295.3 L1052.9 1297.1 L1045.9 1298.6 L1038.9 1299.9 L1031.7 1301.0 L1024.6 1302.0 L1017.4 1302.8 L1010.3 1303.6 L1003.1 1304.4 L995.9 1305.1 L988.8 1305.7 L981.6 1306.3 L974.4 1306.9 L967.2 1307.4 L960.1 1307.9 L952.9 1308.3 L945.7 1308.7 L938.5 1309.1 L931.3 1309.4 L924.2 1309.7 L917.0 1309.9 L909.8 1310.2 L902.6 1310.4 L895.4 1310.6 L888.2 1310.7 L881.0 1310.9 L873.8 1311.0 L866.6 1311.1 L859.4 1311.2 L852.2 1311.3 L845.0 1311.3 L837.9 1311.4 L830.7 1311.5 L823.5 1311.5 L816.3 1311.6 L809.1 1311.6 L801.9 1311.7 L794.7 1311.7 L787.5 1311.8 L780.3 1311.9 L773.1 1312.0 L765.9 1312.0 L758.7 1312.1 L751.5 1312.2 L744.3 1312.3 L737.1 1312.4 L729.9 1312.5 L722.7 1312.6 L715.5 1312.7 L708.3 1312.8 L701.2 1312.9 L694.0 1313.0 L686.8 1313.1 L679.6 1313.3 L672.4 1313.4 L665.2 1313.5 L658.0 1313.6 L650.8 1313.8 L643.6 1313.9 L636.4 1314.1 L629.2 1314.2 L622.0 1314.4 L614.8 1314.5 L607.6 1314.7 L600.5 1314.8 L593.3 1315.0 L586.1 1315.2 L578.9 1315.3 L571.7 1315.5 L564.5 1315.7 L557.3 1315.9 L550.1 1316.1 L542.9 1316.3 L535.7 1316.4 L528.5 1316.6 L521.3 1316.8 L514.2 1317.0 L507.0 1317.2 L499.8 1317.4 L492.6 1317.6 L485.4 1317.9 L478.2 1318.1 L471.0 1318.3 L463.8 1318.5 L456.6 1318.7 L449.4 1318.9 L442.2 1319.2 L435.0 1319.4 L427.9 1319.6 L420.7 1319.9 L413.5 1320.1 L406.3 1320.3 L399.1 1320.6 L391.9 1320.8 L384.7 1321.1 L377.5 1321.3 L370.3 1321.6 L363.1 1321.8 L356.0 1322.1 L348.8 1322.3 L341.6 1322.6 L334.4 1322.9 L327.2 1323.1 L320.0 1323.3" stroke="#ff0000"/>
<path d="M320.0 1312.3 L325.8 1312.3 L331.7 1312.3 L337.5 1312.2 L343.4 1312.2 L349.2 1312.2 L355.0 1312.2 L360.9 1312.2 L366.7 1312.2 L372.6 1312.2 L378.4 1312.1 L384.2 1312.1 L390.1 1312.1 L395.9 1312.1 L401.7 1312.1 L407.6 1312.1 L413.4 1312.1 L419.3 1312.0 L425.1 1312.0 L430.9 1312.0 L436.8 1312.0 L442.6 1312.0 L448.5 1312.0 L454.3 1312.0 L460.1 1312.0 L466.0 1311.9 L471.8 1311.9 L477.7 1311.9 L483.5 1311.9 L489.3 1311.9 L495.2 1311.9 L501.0 1311.9 L506.9 1311.8 L512.7 1311.8 L518.5 1311.8 L524.4 1311.8 L530.2 1311.8 L536.1 1311.8 L541.9 1311.7 L547.7 1311.7 L553.6 1311.7 L559.4 1311.7 L565.2 1311.7 L571.1 1311.7 L576.9 1311.6 L582.8 1311.6 L588.6 1311.6 L594.4 1311.6 L600.3 1311.6 L606.1 1311.5 L612.0 1311.5 L617.8 1311.5 L623.6 1311.5 L629.5 1311.5 L635.3 1311.4 L641.2 1311.4 L647.0 1311.4 L652.8 1311.4 L658.7 1311.3 L664.5 1311.3 L670.4 1311.3 L676.2 1311.3 L682.0 1311.2 L687.9 1311.2 L693.7 1311.2 L699.6 1311.1 L705.4 1311.1 L711.2 1311.1 L717.1 1311.1 L722.9 1311.0 L728.7 1311.0 L734.6 1311.0 L740.4 1310.9 L746.3 1310.9 L752.1 1310.8 L757.9 1310.8 L763.8 1310.8 L769.6 1310.7 L775.5 1310.7 L781.3 1310.7 L787.1 1310.6 L793.0 1310.6 L798.8 1310.5 L804.7 1310.5 L810.5 1310.4 L816.3 1310.4 L822.2 1310.3 L828.0 1310.3 L833.8 1310.2 L839.7 1310.2 L845.5 1310.1 L851.4 1310.0 L857.2 1310.0 L863.0 1309.9 L868.9 1309.8 L874.7 1309.7 L880.6 1309.7 L886.4 1309.6 L892.2 1309.5 L898.1 1309.4 L903.9 1309.3 L909.8 1309.1 L915.6 1309.0 L921.4 1308.8 L927.3 1308.6 L933.1 1308.3 L938.9 1308.0 L944.7 1307.6 L950.5 1307.2 L956.4 1306.7 L962.2 1306.1 L967.9 1305.5 L973.7 1304.7 L979.5 1303.9 L985.3 1303.0 L991.0 1302.0 L996.8 1300.9 L1002.5 1299.8 L1008.3 1298.6 L1014.0 1297.4 L1019.7 1296.1 L1025.4 1294.8 L1031.1 1293.5 L1036.8 1292.1 L1042.4 1290.7 L1048.1 1289.2 L1053.7 1287.6 L1059.2 1285.9 L1064.8 1284.1 L1070.3 1282.2 L1075.8 1280.2 L1081.2 1278.1 L1086.6 1275.9 L1091.9 1273.6 L1097.0 1271.2 L1102.1 1268.7 L1107.2 1266.1 L1112.2 1263.4 L1117.1 1260.6 L1122.0 1257.7 L1126.8 1254.7 L1131.6 1251.6 L1136.2 1248.3 L1140.8 1245.0 L1145.3 1241.6 L1149.8 1238.0 L1154.3 1234.4 L1158.6 1230.6 L1162.9 1226.8 L1167.1 1222.9 L1171.2 1218.8 L1175.2 1214.7 L1179.1 1210.5 L1183.0 1206.2 L1186.7 1201.8 L1190.5 1197.4 L1194.3 1192.9 L1198.0 1188.4 L1201.7 1183.8 L1205.3 1179.2 L1208.9 1174.5 L1212.4 1169.8 L1215.9 1165.1 L1219.4 1160.4 L1222.8 1155.6 L1226.2 1150.9 L1229.8 1146.1 L1233.5 1141.3 L1237.1 1136.4 L1240.7 1131.6 L1244.2 1126.7 L1247.8 1121.8 L1251.3 1116.9 L1254.8 1112.0 L1258.2 1107.0 L1261.5 1102.1 L1264.7 1097.1 L1268.0 1092.1 L1271.2 1087.1 L1274.4 1082.1 L1277.6 1077.1 L1280.8 1072.1 L1284.0 1067.0 L1287.2 1062.0 L1290.3 1056.9 L1293.3 1051.9 L1296.3 1046.8 L1299.4 1041.8 L1302.4 1036.8 L1305.4 1031.8 L1308.5 1026.8 L1311.6 1021.8 L1314.7 1016.8 L1317.8 1011.9 L1320.9 1006.9 L1324.1 1002.0 L1327.3 997.1 L1330.5 992.3 L1333.7 987.5 L1337.0 982.7 L1340.3 977.9 L1343.6 973.1 L1346.9 968.4 L1350.2 963.6 L1353.6 958.9 L1356.9 954.1 L1360.3 949.4 L1363.7 944.6 L1367.1 939.8 L1370.5 935.0 L1373.9 930.2 L1377.3 925.4 L1380.7 920.6 L1384.2 915.8 L1387.7 911.1 L1391.2 906.4 L1394.8 901.7 L1398.2 897.0 L1401.6 892.4 L1405.0 887.8 L1408.5 883.4 L1412.1 879.0 L1415.7 874.6 L1419.5 870.4 L1423.3 866.2 L1427.2 862.2 L1431.3 858.3 L1435.6 854.4 L1440.0 850.7 L1444.5 847.2 L1449.2 843.8 L1453.9 840.5 L1458.8 837.4 L1463.8 834.4 L1468.9 831.6 L1474.1 828.9 L1479.3 826.4 L1484.7 824.1 L1490.2 821.9 L1495.7 819.8 L1501.3 817.9 L1506.9 816.1 L1512.6 814.5 L1518.3 813.0 L1524.1 811.6 L1529.8 810.4 L1535.6 809.3 L1541.4 808.3 L1547.1 807.4 L1552.9 806.6 L1558.7 806.0 L1564.4 805.4 L1570.2 804.9 L1576.0 804.5 L1581.8 804.2 L1587.6 803.9 L1593.4 803.6 L1599.2 803.4 L1605.1 803.2 L1611.0 803.0 L1610.1 808.8 L1608.9 814.5 L1607.6 820.2 L1606.1 825.9 L1604.6 831.6 L1603.0 837.2 L1601.3 842.9 L1599.6 848.5 L1597.8 854.0 L1595.7 859.5 L1593.3 864.8 L1590.6 870.1 L1587.8 875.4 L1584.9 880.6 L1581.9 885.8 L1579.0 891.0 L1576.1 896.2 L1573.3 901.5 L1570.4 906.8 L1567.5 912.1 L1564.6 917.4 L1561.6 922.7 L1558.6 927.9 L1555.4 933.0 L1552.1 938.0 L1548.9 943.0 L1545.8 947.8 L1542.6 952.6 L1539.4 957.4 L1536.0 962.1 L1532.6 966.7 L1529.2 971.4 L1525.8 976.0 L1522.4 980.6 L1519.1 985.2 L1515.7 989.8 L1512.4 994.4 L1509.0 998.9 L1505.6 1003.4 L1502.2 1008.0 L1498.7 1012.5 L1495.3 1016.9 L1491.7 1021.4 L1488.0 1025.8 L1484.3 1030.3 L1480.6 1034.7 L1476.9 1039.1 L1473.2 1043.5 L1469.4 1047.9 L1465.6 1052.2 L1461.8 1056.6 L1458.0 1060.9 L1453.8 1065.2 L1449.7 1069.5 L1445.5 1073.8 L1441.3 1078.1 L1437.1 1082.4 L1432.9 1086.6 L1428.7 1090.9 L1424.4 1095.1 L1420.2 1099.3 L1416.0 1103.5 L1411.8 1107.7 L1407.6 1111.8 L1403.4 1115.9 L1399.2 1120.1 L1394.9 1124.2 L1390.7 1128.3 L1386.4 1132.3 L1382.1 1136.4 L1377.8 1140.4 L1373.5 1144.4 L1369.2 1148.3 L1364.8 1152.3 L1360.5 1156.2 L1356.1 1160.1 L1351.7 1164.0 L1347.2 1167.9 L1342.8 1171.7 L1338.3 1175.5 L1333.8 1179.3 L1329.3 1183.0 L1324.7 1186.7 L1320.2 1190.4 L1315.6 1194.1 L1310.9 1197.7 L1306.3 1201.3 L1301.6 1204.9 L1296.9 1208.4 L1292.1 1211.9 L1287.3 1215.3 L1282.5 1218.7 L1277.7 1222.0 L1272.8 1225.3 L1267.9 1228.6 L1263.0 1231.8 L1258.1 1234.9 L1253.1 1238.0 L1248.0 1241.1 L1243.0 1244.1 L1237.9 1247.0 L1232.8 1249.8 L1227.6 1252.6 L1222.4 1255.3 L1217.2 1258.0 L1212.0 1260.5 L1206.7 1263.0 L1201.3 1265.5 L1196.0 1267.8 L1190.6 1270.1 L1185.1 1272.3 L1179.7 1274.4 L1174.1 1276.4 L1168.6 1278.3 L1163.0 1280.2 L1157.4 1282.0 L1151.8 1283.7 L1146.1 1285.3 L1140.5 1286.8 L1134.7 1288.3 L1129.0 1289.7 L1123.3 1291.0 L1117.5 1292.2 L1111.7 1293.4 L1105.9 1294.4 L1100.1 1295.4 L1094.3 1296.4 L1088.5 1297.2 L1082.7 1298.0 L1076.8 1298.7 L1071.0 1299.4 L1065.2 1299.9 L1059.3 1300.5 L1053.5 1300.9 L1047.6 1301.4 L1041.8 1301.8 L1036.0 1302.2 L1030.1 1302.6 L1024.3 1303.0 L1018.4 1303.4 L1012.6 1303.8 L1006.7 1304.3 L1000.9 1304.9 L995.0 1305.4 L989.2 1306.1 L983.3 1306.7 L977.5 1307.4 L971.6 1308.1 L965.8 1308.7 L959.9 1309.3 L954.1 1309.8 L948.2 1310.2 L942.4 1310.7 L936.5 1311.0 L930.7 1311.3 L924.8 1311.6 L918.9 1311.9 L913.1 1312.1 L907.2 1312.2 L901.3 1312.4 L895.5 1312.5 L889.6 1312.6 L883.7 1312.7 L877.8 1312.7 L872.0 1312.8 L866.1 1312.8 L860.2 1312.9 L854.4 1312.9 L848.5 1312.9 L842.6 1312.9 L836.7 1313.0 L830.9 1313.0 L825.0 1313.1 L819.1 1313.1 L813.3 1313.2 L807.4 1313.2 L801.5 1313.3 L795.6 1313.4 L789.8 1313.4 L783.9 1313.5 L778.0 1313.6 L772.1 1313.6 L766.3 1313.7 L760.4 1313.8 L754.5 1313.8 L748.7 1313.9 L742.8 1314.0 L736.9 1314.1 L731.0 1314.1 L725.2 1314.2 L719.3 1314.3 L713.4 1314.3 L707.6 1314.4 L701.7 1314.5 L695.8 1314.5 L689.9 1314.6 L684.1 1314.7 L678.2 1314.7 L672.3 1314.8 L666.4 1314.9 L660.6 1314.9 L654.7 1315.0 L648.8 1315.1 L643.0 1315.1 L637.1 1315.2 L631.2 1315.3 L625.3 1315.4 L619.5 1315.4 L613.6 1315.5 L607.7 1315.6 L601.9 1315.6 L596.0 1315.7 L590.1 1315.8 L584.2 1315.8 L578.4 1315.9 L572.5 1316.0 L566.6 1316.1 L560.7 1316.1 L554.9 1316.2 L549.0 1316.3 L543.1 1316.4 L537.3 1316.4 L531.4 1316.5 L525.5 1316.6 L519.6 1316.7 L513.8 1316.7 L507.9 1316.8 L502.0 1316.9 L496.2 1317.0 L490.3 1317.0 L484.4 1317.1 L478.5 1317.2 L472.7 1317.3 L466.8 1317.4 L460.9 1317.5 L455.1 1317.5 L449.2 1317.6 L443.3 1317.7 L437.4 1317.8 L431.6 1317.9 L425.7 1318.0 L419.8 1318.1 L413.9 1318.2 L408.1 1318.2 L402.2 1318.3 L396.3 1318.4 L390.5 1318.5 L384.6 1318.6 L378.7 1318.7 L372.8 1318.8 L367.0 1318.9 L361.1 1319.0 L355.2 1319.1 L349.4 1319.2 L343.5 1319.3 L337.6 1319.4 L331.7 1319.5 L325.9 1319.6 L320.0 1319.7" stroke="#000000"/>
<path d="M320.0 1312.0 L325.0 1312.1 L330.1 1312.1 L335.1 1312.1 L340.2 1312.0 L345.2 1312.0 L350.3 1312.0 L355.3 1312.0 L360.3 1311.9 L365.4 1311.9 L370.4 1311.9 L375.5 1311.8 L380.5 1311.8 L385.6 1311.8 L390.6 1311.8 L395.7 1311.8 L400.7 1311.7 L405.8 1311.7 L410.8 1311.7 L415.8 1311.7 L420.9 1311.6 L425.9 1311.6 L431.0 1311.6 L436.0 1311.6 L441.1 1311.6 L446.1 1311.6 L451.1 1311.5 L456.2 1311.5 L461.2 1311.5 L466.3 1311.5 L471.3 1311.5 L476.4 1311.5 L481.4 1311.5 L486.5 1311.5 L491.5 1311.4 L496.5 1311.4 L501.6 1311.4 L506.6 1311.4 L511.7 1311.4 L516.7 1311.4 L521.8 1311.4 L526.8 1311.4 L531.9 1311.4 L536.9 1311.3 L541.9 1311.3 L547.0 1311.3 L552.0 1311.3 L557.1 1311.3 L562.1 1311.3 L567.2 1311.3 L572.2 1311.3 L577.2 1311.3 L582.3 1311.3 L587.3 1311.2 L592.4 1311.2 L597.4 1311.2 L602.5 1311.2 L607.5 1311.2 L612.5 1311.2 L617.6 1311.2 L622.6 1311.2 L627.7 1311.2 L632.7 1311.1 L637.8 1311.1 L642.8 1311.1 L647.9 1311.1 L652.9 1311.1 L657.9 1311.1 L663.0 1311.1 L668.0 1311.1 L673.1 1311.0 L678.1 1311.0 L683.2 1311.0 L688.2 1311.0 L693.2 1311.0 L698.3 1311.0 L703.3 1311.0 L708.4 1310.9 L713.4 1310.9 L718.5 1310.9 L723.5 1310.9 L728.5 1310.9 L733.6 1310.8 L738.6 1310.8 L743.7 1310.8 L748.7 1310.8 L753.8 1310.7 L758.8 1310.7 L763.9 1310.7 L768.9 1310.7 L773.9 1310.6 L779.0 1310.6 L784.0 1310.6 L789.1 1310.6 L794.1 1310.5 L799.2 1310.5 L804.2 1310.5 L809.2 1310.4 L814.3 1310.4 L819.3 1310.4 L824.4 1310.3 L829.4 1310.3 L834.5 1310.2 L839.5 1310.2 L844.6 1310.2 L849.6 1310.1 L854.6 1310.1 L859.7 1310.0 L864.7 1310.0 L869.8 1309.9 L874.8 1309.9 L879.9 1309.8 L884.9 1309.8 L889.9 1309.7 L895.0 1309.7 L900.0 1309.6 L905.1 1309.6 L910.1 1309.5 L915.2 1309.5 L920.2 1309.4 L925.3 1309.3 L930.3 1309.3 L935.3 1309.2 L940.4 1309.1 L945.4 1309.1 L950.5 1309.0 L955.5 1308.9 L960.6 1308.9 L965.6 1308.8 L970.7 1308.7 L975.7 1308.6 L980.7 1308.5 L985.8 1308.5 L990.8 1308.4 L995.9 1308.3 L1000.9 1308.2 L1006.0 1308.1 L1011.0 1308.0 L1016.1 1307.9 L1021.1 1307.8 L1026.1 1307.8 L1031.2 1307.7 L1036.2 1307.6 L1041.3 1307.5 L1046.3 1307.3 L1051.4 1307.2 L1056.4 1307.1 L1061.5 1307.0 L1066.5 1306.9 L1071.6 1306.8 L1076.6 1306.7 L1081.6 1306.5 L1086.7 1306.4 L1091.7 1306.2 L1096.8 1306.1 L1101.8 1305.9 L1106.9 1305.8 L1111.9 1305.6 L1116.9 1305.4 L1122.0 1305.2 L1127.0 1305.0 L1132.0 1304.8 L1137.1 1304.6 L1142.1 1304.4 L1147.2 1304.2 L1152.2 1303.9 L1157.2 1303.7 L1162.3 1303.4 L1167.3 1303.1 L1172.3 1302.8 L1177.3 1302.5 L1182.4 1302.2 L1187.4 1301.9 L1192.4 1301.5 L1197.4 1301.1 L1202.5 1300.8 L1207.5 1300.4 L1212.5 1300.0 L1217.5 1299.6 L1222.5 1299.1 L1227.5 1298.7 L1232.6 1298.2 L1237.6 1297.7 L1242.6 1297.3 L1247.6 1296.8 L1252.6 1296.3 L1257.6 1295.8 L1262.6 1295.2 L1267.6 1294.7 L1272.6 1294.2 L1277.7 1293.6 L1282.7 1293.1 L1287.7 1292.5 L1292.7 1292.0 L1297.7 1291.4 L1302.7 1290.8 L1307.7 1290.2 L1312.7 1289.7 L1317.8 1289.1 L1322.8 1288.5 L1327.8 1287.9 L1332.8 1287.4 L1337.8 1286.8 L1342.9 1286.2 L1347.9 1285.6 L1352.9 1285.0 L1358.0 1284.4 L1363.0 1283.9 L1368.0 1283.3 L1373.0 1282.7 L1378.1 1282.0 L1383.1 1281.4 L1388.1 1280.8 L1393.1 1280.1 L1398.2 1279.5 L1403.2 1278.8 L1408.2 1278.1 L1413.2 1277.4 L1418.2 1276.7 L1423.2 1275.9 L1428.2 1275.1 L1433.2 1274.4 L1438.2 1273.5 L1443.1 1272.7 L1448.1 1271.8 L1453.1 1271.0 L1458.0 1270.2 L1463.0 1269.4 L1467.9 1268.6 L1472.8 1267.7 L1477.8 1266.8 L1482.7 1265.8 L1487.6 1264.8 L1492.4 1263.8 L1497.3 1262.7 L1502.2 1261.6 L1507.0 1260.4 L1511.9 1259.1 L1516.7 1257.8 L1521.5 1256.5 L1526.3 1255.1 L1531.0 1253.6 L1535.7 1252.1 L1540.4 1250.5 L1545.1 1248.5 L1549.8 1246.5 L1554.4 1244.4 L1559.0 1242.2 L1563.6 1240.0 L1568.1 1237.7 L1572.6 1235.4 L1577.1 1233.0 L1581.6 1230.5 L1586.0 1227.9 L1590.3 1225.3 L1594.7 1222.4 L1598.9 1219.5 L1603.2 1216.4 L1607.4 1213.2 L1611.0 1209.5 L1609.1 1214.5 L1605.9 1219.5 L1603.1 1224.3 L1600.1 1228.8 L1597.0 1233.2 L1593.5 1237.4 L1589.7 1241.3 L1585.7 1245.1 L1581.6 1248.7 L1577.9 1252.2 L1574.3 1255.4 L1570.5 1258.5 L1566.6 1261.4 L1562.6 1264.2 L1558.5 1266.9 L1554.4 1269.4 L1550.2 1271.7 L1545.9 1274.0 L1541.6 1276.1 L1537.1 1278.1 L1532.5 1280.0 L1528.1 1281.8 L1523.6 1283.5 L1519.0 1285.1 L1514.4 1286.6 L1509.7 1288.0 L1505.1 1289.4 L1500.4 1290.7 L1495.6 1291.9 L1490.9 1293.1 L1486.1 1294.1 L1481.2 1295.1 L1476.2 1296.1 L1471.2 1297.0 L1466.1 1297.8 L1461.1 1298.6 L1456.0 1299.3 L1450.9 1299.9 L1445.8 1300.6 L1440.7 1301.1 L1435.6 1301.7 L1430.5 1302.2 L1425.4 1302.6 L1420.3 1303.1 L1415.1 1303.5 L1410.0 1303.8 L1404.9 1304.2 L1399.8 1304.5 L1394.6 1304.8 L1389.5 1305.1 L1384.4 1305.3 L1379.2 1305.6 L1374.1 1305.8 L1369.0 1306.0 L1363.9 1306.3 L1358.8 1306.5 L1353.7 1306.7 L1348.6 1306.9 L1343.4 1307.1 L1338.3 1307.3 L1333.2 1307.5 L1328.1 1307.7 L1323.0 1307.9 L1317.9 1308.1 L1312.8 1308.3 L1307.7 1308.4 L1302.6 1308.6 L1297.5 1308.8 L1292.4 1309.0 L1287.3 1309.1 L1282.2 1309.3 L1277.1 1309.5 L1272.0 1309.6 L1266.9 1309.8 L1261.8 1309.9 L1256.7 1310.1 L1251.6 1310.3 L1246.5 1310.4 L1241.4 1310.6 L1236.2 1310.8 L1231.1 1310.9 L1226.0 1311.1 L1220.9 1311.2 L1215.8 1311.4 L1210.6 1311.5 L1205.5 1311.7 L1200.4 1311.8 L1195.3 1311.9 L1190.1 1312.1 L1185.0 1312.2 L1179.9 1312.3 L1174.8 1312.4 L1169.6 1312.5 L1164.5 1312.6 L1159.4 1312.7 L1154.3 1312.8 L1149.2 1312.9 L1144.0 1313.0 L1138.9 1313.1 L1133.8 1313.2 L1128.7 1313.3 L1123.6 1313.3 L1118.4 1313.4 L1113.3 1313.5 L1108.2 1313.5 L1103.1 1313.6 L1098.0 1313.6 L1092.9 1313.7 L1087.7 1313.8 L1082.6 1313.8 L1077.5 1313.9 L1072.4 1313.9 L1067.3 1313.9 L1062.1 1314.0 L1057.0 1314.0 L1051.9 1314.1 L1046.8 1314.1 L1041.7 1314.1 L1036.6 1314.2 L1031.4 1314.2 L1026.3 1314.3 L1021.2 1314.3 L1016.1 1314.3 L1011.0 1314.4 L1005.9 1314.4 L1000.7 1314.4 L995.6 1314.5 L990.5 1314.5 L985.4 1314.5 L980.3 1314.5 L975.2 1314.6 L970.0 1314.6 L964.9 1314.6 L959.8 1314.7 L954.7 1314.7 L949.6 1314.7 L944.4 1314.7 L939.3 1314.8 L934.2 1314.8 L929.1 1314.8 L924.0 1314.8 L918.9 1314.9 L913.7 1314.9 L908.6 1314.9 L903.5 1314.9 L898.4 1314.9 L893.3 1315.0 L888.1 1315.0 L883.0 1315.0 L877.9 1315.0 L872.8 1315.0 L867.7 1315.1 L862.6 1315.1 L857.4 1315.1 L852.3 1315.1 L847.2 1315.1 L842.1 1315.2 L837.0 1315.2 L831.8 1315.2 L826.7 1315.2 L821.6 1315.2 L816.5 1315.2 L811.4 1315.3 L806.3 1315.3 L801.1 1315.3 L796.0 1315.3 L790.9 1315.3 L785.8 1315.3 L780.7 1315.4 L775.5 1315.4 L770.4 1315.4 L765.3 1315.4 L760.2 1315.4 L755.1 1315.4 L750.0 1315.5 L744.8 1315.5 L739.7 1315.5 L734.6 1315.5 L729.5 1315.5 L724.4 1315.5 L719.2 1315.5 L714.1 1315.6 L709.0 1315.6 L703.9 1315.6 L698.8 1315.6 L693.6 1315.6 L688.5 1315.7 L683.4 1315.7 L678.3 1315.7 L673.2 1315.7 L668.1 1315.7 L662.9 1315.7 L657.8 1315.8 L652.7 1315.8 L647.6 1315.8 L642.5 1315.8 L637.3 1315.8 L632.2 1315.9 L627.1 1315.9 L622.0 1315.9 L616.9 1315.9 L611.7 1315.9 L606.6 1316.0 L601.5 1316.0 L596.4 1316.0 L591.3 1316.0 L586.2 1316.1 L581.0 1316.1 L575.9 1316.1 L570.8 1316.1 L565.7 1316.2 L560.6 1316.2 L555.4 1316.2 L550.3 1316.3 L545.2 1316.3 L540.1 1316.3 L535.0 1316.3 L529.8 1316.4 L524.7 1316.4 L519.6 1316.4 L514.5 1316.5 L509.4 1316.5 L504.3 1316.5 L499.1 1316.6 L494.0 1316.6 L488.9 1316.6 L483.8 1316.7 L478.7 1316.7 L473.5 1316.8 L468.4 1316.8 L463.3 1316.8 L458.2 1316.9 L453.1 1316.9 L448.0 1317.0 L442.8 1317.0 L437.7 1317.0 L432.6 1317.1 L427.5 1317.1 L422.4 1317.2 L417.2 1317.2 L412.1 1317.3 L407.0 1317.3 L401.9 1317.4 L396.8 1317.4 L391.7 1317.5 L386.5 1317.6 L381.4 1317.6 L376.3 1317.7 L371.2 1317.7 L366.1 1317.8 L360.9 1317.8 L355.8 1317.9 L350.7 1318.0 L345.6 1318.0 L340.5 1318.1 L335.4 1318.2 L330.2 1318.2 L325.1 1318.3 L320.0 1318.1" stroke="#ff80ff"/>
</g>
<defs><clipPath id="c0" clipPathUnits="userSpaceOnUse"><path clip-rule="evenodd" d="M-50 -120 H450 V40 H-50 Z M4.0 -14 H22.6 V3 H4.0 Z M37.8 -14 H55.0 V3 H37.8 Z"/></clipPath><clipPath id="c1" clipPathUnits="userSpaceOnUse"><path clip-rule="evenodd" d="M-50 -120 H450 V40 H-50 Z M4.0 -14 H22.6 V3 H4.0 Z M37.8 -14 H55.0 V3 H37.8 Z"/></clipPath><clipPath id="c2" clipPathUnits="userSpaceOnUse"><path clip-rule="evenodd" d="M-50 -120 H450 V40 H-50 Z M4.0 -14 H22.6 V3 H4.0 Z M37.8 -14 H55.0 V3 H37.8 Z"/></clipPath><clipPath id="c3" clipPathUnits="userSpaceOnUse"><path clip-rule="evenodd" d="M-50 -120 H450 V40 H-50 Z M87.3 -14 H105.9 V3 H87.3 Z M121.1 -14 H138.3 V3 H121.1 Z"/></clipPath><clipPath id="c4" clipPathUnits="userSpaceOnUse"><path clip-rule="evenodd" d="M-50 -120 H450 V40 H-50 Z M282.0 -14 H300.6 V3 H282.0 Z M315.8 -14 H333.0 V3 H315.8 Z"/></clipPath></defs>
<filter id="bin" x="-5%" y="-5%" width="110%" height="110%" color-interpolation-filters="sRGB"><feComponentTransfer><feFuncA type="discrete" tableValues="0 1"/></feComponentTransfer></filter>
<g id="ticks" filter="url(#bin)">
<text transform="matrix(0.7412 0 0 0.7901 164.98 84.21)" font-size="100" font-weight="bold" fill="#000"  clip-path="url(#c0)">100</text>
<text transform="matrix(0.7490 0 0 0.7887 206.45 334.01)" font-size="100" font-weight="bold" fill="#000" >80</text>
<text transform="matrix(0.7527 0 0 0.7859 206.07 583.81)" font-size="100" font-weight="bold" fill="#000" >60</text>
<text transform="matrix(0.7555 0 0 0.7873 205.77 832.41)" font-size="100" font-weight="bold" fill="#000" >40</text>
<text transform="matrix(0.7527 0 0 0.7873 206.07 1081.81)" font-size="100" font-weight="bold" fill="#000" >20</text>
<text transform="matrix(0.7558 0 0 0.7845 246.98 1331.92)" font-size="100" font-weight="bold" fill="#000" >0</text>
<text transform="matrix(0.7527 0 0 0.7915 267.59 1463.21)" font-size="100" font-weight="bold" fill="#000" >0.0</text>
<text transform="matrix(0.7521 0 0 0.7915 590.79 1463.21)" font-size="100" font-weight="bold" fill="#000" >0.3</text>
<text transform="matrix(0.7498 0 0 0.7915 912.70 1463.21)" font-size="100" font-weight="bold" fill="#000" >0.6</text>
<text transform="matrix(0.7536 0 0 0.7915 1235.49 1463.21)" font-size="100" font-weight="bold" fill="#000" >0.9</text>
<text transform="matrix(0.7595 0 0 0.7943 1558.46 1463.40)" font-size="100" font-weight="bold" fill="#000"  clip-path="url(#c1)">1.2</text>
<text transform="matrix(0.7483 0 0 0.7929 1881.74 1463.21)" font-size="100" font-weight="bold" fill="#000"  clip-path="url(#c2)">1.5</text>
</g>
<g id="titles" filter="url(#bin)">
<text transform="matrix(0.9598 0 0 0.9947 1018.46 1584.71)" font-size="100" font-weight="bold" fill="#000" >E (V)</text>
<text transform="matrix(0 -0.9734 1.0000 0 101.20 906.53)" font-size="100" font-weight="bold" fill="#000" >Ip (<tspan font-family="Liberation Serif">μ</tspan>A)</text>
</g>
<g id="legend" filter="url(#bin)">
<text transform="matrix(0.6478 0 0 0.6841 1666.19 378.80)" font-size="100" font-weight="bold" fill="#000" >mM</text>
<rect x="1666" y="385" width="110" height="8.2" fill="#000" shape-rendering="crispEdges"/>
<text transform="matrix(0.6322 0 0 0.6718 1634.17 534.13)" font-size="100" font-weight="bold" fill="#ff0000"  clip-path="url(#c3)">...1.00</text>
<text transform="matrix(0.6310 0 0 0.6704 1634.18 688.13)" font-size="100" font-weight="bold" fill="#0000ff" >...0.600</text>
<text transform="matrix(0.6310 0 0 0.6775 1634.18 842.32)" font-size="100" font-weight="bold" fill="#ff00ff" >...0.500</text>
<text transform="matrix(0.6310 0 0 0.6746 1634.18 997.23)" font-size="100" font-weight="bold" fill="#000000" >...0.300</text>
<text transform="matrix(0.6310 0 0 0.6676 1634.18 1152.03)" font-size="100" font-weight="bold" fill="#007a33"  clip-path="url(#c4)">...0.001</text>
<text transform="matrix(0.6281 0 0 0.6327 1651.60 1304.97)" font-size="100" font-weight="bold" fill="#ff80ff" >...blank</text>
</g>
</svg>
</body>
</html>
